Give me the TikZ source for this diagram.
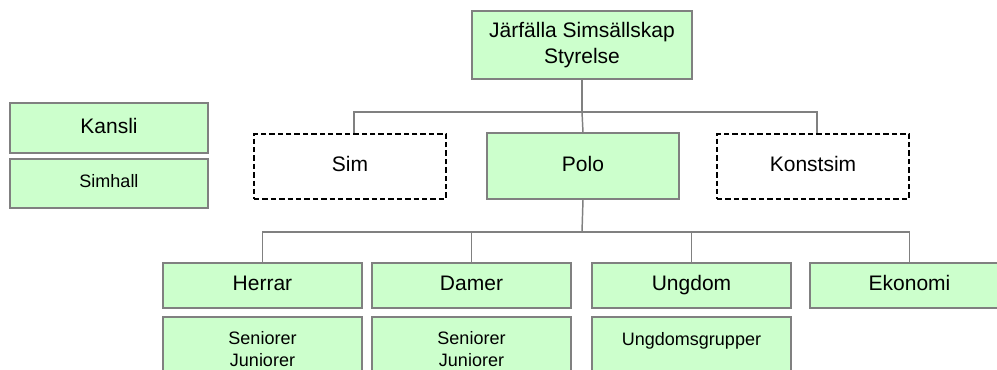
\documentclass[tikz,border=0pt]{standalone}
\usepackage{fontspec}
\setmainfont{Liberation Sans}
\definecolor{boxfill}{HTML}{CCFFCC}
\definecolor{edgegray}{HTML}{808080}
\begin{document}
\begin{tikzpicture}[x=0.75pt,y=-0.75pt,
  wh/.style 2 args={minimum width=#1*0.75pt, minimum height=#2*0.75pt},
  bigtext/.style={font=\fontsize{15.75}{20}\selectfont},
  smalltext/.style={font=\fontsize{13.5}{16.5}\selectfont},
  box/.style={draw=edgegray, fill=boxfill, line width=1.1pt, inner sep=0pt, align=center, bigtext},
  dbox/.style={draw=black, fill=white, dash pattern=on 4pt off 2.3pt, line width=1.1pt, inner sep=0pt, align=center, bigtext},
  conn/.style={draw=edgegray, line width=1.1pt}]
\clip (0,0) rectangle (997,370);
\fill[white] (0,0) rectangle (997,370);

\node[box, wh={220}{68}] (top) at (582,45) {Järfälla Simsällskap\\Styrelse};
\node[box, wh={198}{50}] (kansli) at (109,128) {\strut Kansli};
\node[box, smalltext, wh={198}{49}] (simhall) at (109,183.5) {\strut Simhall};

\node[dbox, wh={192}{65}] (sim) at (350,166.5) {\strut Sim};
\node[box, wh={192}{66}] (polo) at (583,166) {\strut Polo};
\node[dbox, wh={192}{65}] (konst) at (813,166.5) {\strut Konstsim};

\node[box, wh={199}{45}] (herrar) at (262.5,285.5) {\strut Herrar};
\node[box, wh={199}{45}] (damer) at (471.5,285.5) {\strut Damer};
\node[box, wh={199}{45}] (ungdom) at (691.5,285.5) {\strut Ungdom};
\node[box, wh={199}{45}] (ekonomi) at (909.5,285.5) {\strut Ekonomi};

\node[box, smalltext, wh={199}{65}] (herrarsub) at (262.5,349.5) {Seniorer\\Juniorer};
\node[box, smalltext, wh={199}{65}] (damersub) at (471.5,349.5) {Seniorer\\Juniorer};
\node[box, smalltext, wh={199}{65}] (ungdomsub) at (691.5,349.5) {Ungdomsgrupper\\\mbox{}};

\coordinate (bus1) at (582,112);
\coordinate (bus2) at (582,232);
\draw[conn] (top.south) -- (bus1);
\draw[conn] ([xshift=3pt]sim.north) |- (bus1) -| ([xshift=3pt]konst.north);
\draw[conn] (bus1) -- (polo.north);
\draw[conn] (polo.south) -- (bus2);
\draw[conn] (herrar.north) |- (bus2) -| (ekonomi.north);
\draw[conn] (damer.north) -- (damer.north |- bus2);
\draw[conn] (ungdom.north) -- (ungdom.north |- bus2);
\end{tikzpicture}
\end{document}
